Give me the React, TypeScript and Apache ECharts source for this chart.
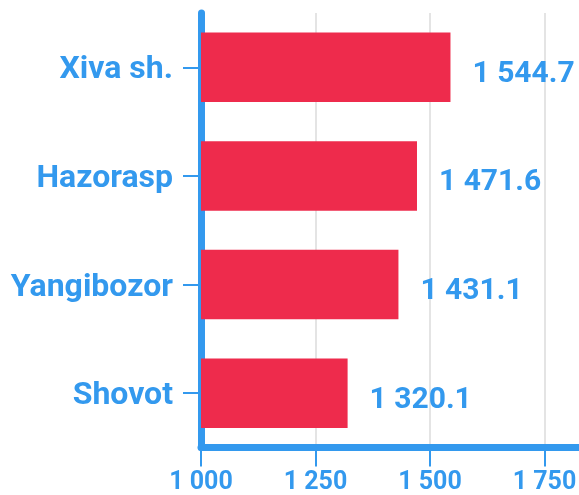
import React, { useEffect, useRef } from "react";
import * as echarts from "echarts";

const categories = ["Xiva sh.", "Hazorasp", "Yangibozor", "Shovot"];
const values = [1544.7, 1471.6, 1431.1, 1320.1];
const xMin = 1000;
const xMax = 2000;
const xInterval = 250;

const BLUE = "#3399ee";
const RED = "#ee2b4c";

function fmt(v: number, decimals: number): string {
  const s = v.toFixed(decimals);
  const [int, dec] = s.split(".");
  const grouped = int.replace(/\B(?=(\d{3})+(?!\d))/g, " ");
  return dec !== undefined ? grouped + "." + dec : grouped;
}

export default function App() {
  const ref = useRef<HTMLDivElement>(null);
  useEffect(() => {
    if (!ref.current) return;
    const chart = echarts.init(ref.current, undefined, { renderer: "svg" });
    chart.setOption({
      animation: false,
      textStyle: { fontFamily: "Roboto" },
      grid: {
        left: 201,
        right: -80,
        top: 13,
        bottom: 47.5,
        containLabel: false,
        outerBoundsMode: "none",
      },
      xAxis: {
        type: "value",
        min: xMin,
        max: xMax,
        interval: xInterval,
        axisLine: { show: true, lineStyle: { color: BLUE, width: 7 } },
        axisTick: { show: true, length: 19, lineStyle: { color: BLUE, width: 2 } },
        axisLabel: {
          color: BLUE,
          fontSize: 25,
          fontWeight: "bold",
          fontFamily: "Roboto",
          margin: 20,
          showMaxLabel: false,
          formatter: (v: number) => fmt(v, 0),
        },
        splitLine: { show: true, lineStyle: { color: "#e4e4e4", width: 2 } },
      },
      yAxis: {
        type: "category",
        data: categories,
        inverse: true,
        axisLine: { show: true, lineStyle: { color: BLUE, width: 7 } },
        axisTick: { show: true, length: 18, alignWithLabel: true, lineStyle: { color: BLUE, width: 2 } },
        axisLabel: {
          color: BLUE,
          fontSize: 32,
          fontWeight: "bold",
          fontFamily: "Roboto",
          margin: 28,
          padding: [8, 0, 0, 0],
        },
        splitLine: { show: false },
      },
      series: [
        {
          type: "bar",
          data: values,
          barWidth: "64%",
          itemStyle: { color: RED },
          label: {
            show: true,
            position: "right",
            distance: 22,
            offset: [0, 4],
            color: BLUE,
            fontSize: 30,
            fontWeight: "bold",
            fontFamily: "Roboto",
            formatter: (p: any) => fmt(p.value, 1),
          },
        },
      ],
    });
    return () => chart.dispose();
  }, []);
  return <div ref={ref} style={{ width: 579, height: 495, position: "fixed", left: 0, top: 0 }} />;
}
